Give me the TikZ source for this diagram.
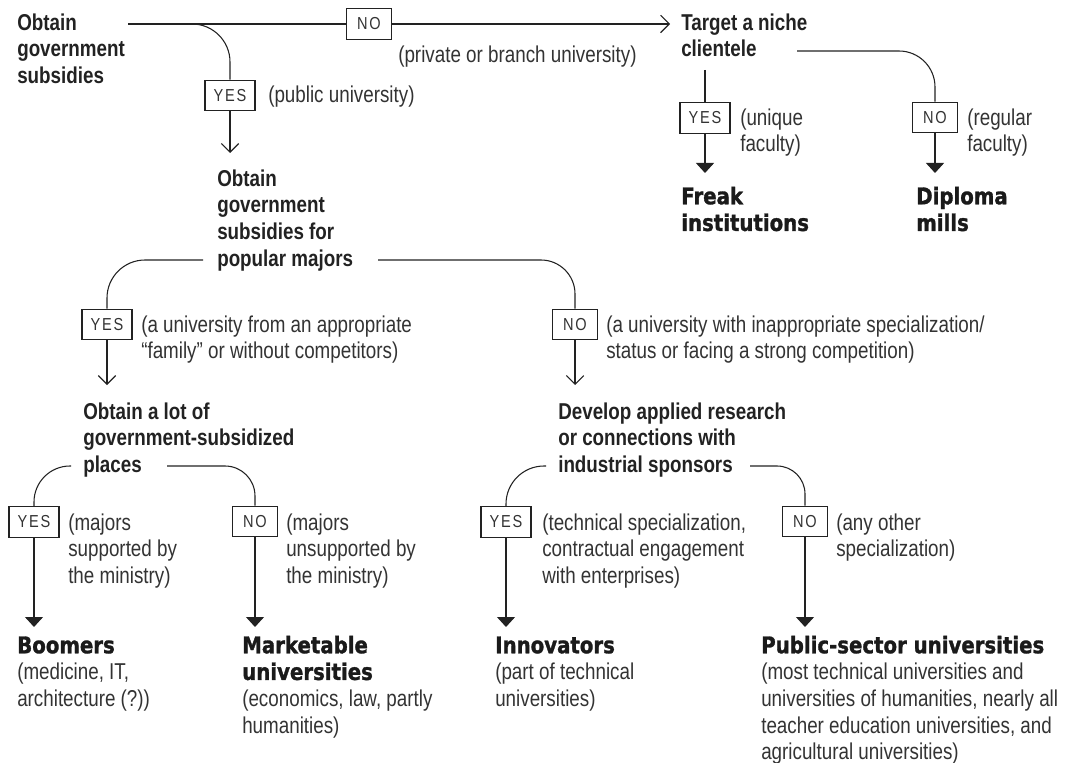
\documentclass[tikz,border=0pt]{standalone}
\usepackage{fontspec}
\setmainfont{Liberation Sans}[FakeStretch=0.82]
\newfontfamily\blackfam{DejaVu Sans}[FakeStretch=0.86,BoldFeatures={FakeBold=1.3}]
\newfontfamily\boxfam{Liberation Sans}[LetterSpace=10,FakeStretch=0.84]
\usetikzlibrary{arrows.meta}
\newcommand\firstln{\rule{0pt}{14pt}}
\newcommand\regf{\fontsize{17.2pt}{20pt}\selectfont}
\newcommand\blackf{\blackfam\bfseries\fontsize{17.2pt}{20pt}\selectfont}
\definecolor{ink}{HTML}{222222}
\definecolor{txtc}{HTML}{333333}
\definecolor{ttlc}{HTML}{1A1A1A}
\tikzset{
  ln/.style={draw=ink, line width=0.8pt},
  openarr/.style={-{Straight Barb[length=6.5pt,width=13pt,line width=0.8pt]}},
  fillarr/.style={-{Triangle[length=7.5pt,width=13.5pt]}},
  txt/.style={anchor=north west, inner sep=0pt, align=left, font=\regf, text=txtc},
  hd/.style={txt, font=\regf\bfseries, text=ink},
  ttl/.style={txt, font=\blackf, text=ttlc},
  lbox/.style={draw=ink, line width=0.8pt, fill=white, inner sep=0pt,
    minimum height=23pt, font=\boxfam\fontsize{13pt}{15pt}\selectfont, text=txtc},
  yesbox/.style={lbox, minimum width=37.5pt},
  nobox/.style={lbox, minimum width=33.75pt}
}
\begin{document}
\begin{tikzpicture}[x=0.75pt, y=-0.75pt]
\useasboundingbox (0,0) rectangle (1067,763);

% ---------- top level ----------
\node[hd] (q1) at (17,11.33) {\firstln Obtain\\government\\subsidies};
\coordinate (s1) at (128,24);
\node[nobox] (n1) at (369,24) {NO};
\coordinate (t1) at (670,24);
\draw[ln] (s1) -- (n1.west);
\draw[ln,openarr] (n1.east) -- (t1);
\node[txt] (l1) at (398,43.33) {\firstln(private or branch university)};

\coordinate (b1) at (190,24);
\node[yesbox] (y1) at (230,95.5) {YES};
\draw[ln,rounded corners=28.5pt] (b1) -| (y1.north);
\coordinate (t2) at (230,153);
\draw[ln,openarr] (y1.south) -- (t2);
\node[txt] (l2) at (268,83.33) {\firstln(public university)};

% ---------- niche branch ----------
\node[hd] (q5) at (681,11.33) {\firstln Target a niche\\clientele};
\coordinate (b6) at (705,70);
\node[yesbox] (y5) at (705,118) {YES};
\draw[ln] (b6) -- (y5.north);
\coordinate (t6) at (705,173);
\draw[ln,fillarr] (y5.south) -- (t6);
\node[txt] (l5) at (740,106.33) {\firstln(unique\\faculty)};

\coordinate (b5) at (797,51);
\node[nobox] (n5) at (935,117.5) {NO};
\draw[ln,rounded corners=27pt] (b5) -| (n5.north);
\coordinate (t5) at (935,173);
\draw[ln,fillarr] (n5.south) -- (t5);
\node[txt] (l6) at (967,106.33) {\firstln(regular\\faculty)};

\node[ttl] (r1) at (681,185.33) {\firstln Freak\\institutions};
\node[ttl] (r2) at (916,185.33) {\firstln Diploma\\mills};

% ---------- second level ----------
\node[hd] (q2) at (217,167.33) {\firstln Obtain\\government\\subsidies for\\popular majors};
\coordinate (b2l) at (203,260);
\node[yesbox] (y2) at (107,324.5) {YES};
\draw[ln,rounded corners=28.5pt] (b2l) -| (y2.north);
\coordinate (t3) at (107,385);
\draw[ln,openarr] (y2.south) -- (t3);
\node[txt] (l3) at (141,313.33) {\firstln(a university from an appropriate\\“family” or without competitors)};

\coordinate (b2r) at (378,260);
\node[nobox] (n2) at (575,324.5) {NO};
\draw[ln,rounded corners=25.5pt] (b2r) -| (n2.north);
\coordinate (t4) at (575,385);
\draw[ln,openarr] (n2.south) -- (t4);
\node[txt] (l4) at (606,313.33) {\firstln(a university with inappropriate specialization/\\status or facing a strong competition)};

% ---------- third level ----------
\node[hd] (q3) at (83,400.33) {\firstln Obtain a lot of\\government-subsidized\\places};
\node[hd] (q4) at (558,400.33) {\firstln Develop applied research\\or connections with\\industrial sponsors};

\coordinate (b3l) at (71,466);
\node[yesbox] (y3) at (34,522) {YES};
\draw[ln,rounded corners=27pt] (b3l) -| (y3.north);
\coordinate (t7) at (34,627);
\draw[ln,fillarr] (y3.south) -- (t7);
\node[txt] (l7) at (68,511.33) {\firstln(majors\\supported by\\the ministry)};

\coordinate (b3r) at (167,466);
\node[nobox] (n3) at (255,521.5) {NO};
\draw[ln,rounded corners=22.5pt] (b3r) -| (n3.north);
\coordinate (t8) at (255,627);
\draw[ln,fillarr] (n3.south) -- (t8);
\node[txt] (l8) at (286,511.33) {\firstln(majors\\unsupported by\\the ministry)};

\coordinate (b4l) at (546,466);
\node[yesbox] (y4) at (506,522) {YES};
\draw[ln,rounded corners=28.5pt] (b4l) -| (y4.north);
\coordinate (t9) at (506,627);
\draw[ln,fillarr] (y4.south) -- (t9);
\node[txt] (l9) at (542,511.33) {\firstln(technical specialization,\\contractual engagement\\with enterprises)};

\coordinate (b4r) at (750,466);
\node[nobox] (n4) at (805,521.5) {NO};
\draw[ln,rounded corners=21pt] (b4r) -| (n4.north);
\coordinate (t10) at (805,627);
\draw[ln,fillarr] (n4.south) -- (t10);
\node[txt] (l10) at (836,511.33) {\firstln(any other\\specialization)};

% ---------- leaves ----------
\node[txt] (r3) at (17,634.33) {\firstln{\blackf\color{ttlc}Boomers}\\(medicine, IT,\\architecture (?))};
\node[txt] (r4) at (242,634.33) {\firstln{\blackf\color{ttlc}Marketable}\\{\blackf\color{ttlc}universities}\\(economics, law, partly\\humanities)};
\node[txt] (r5) at (495,634.33) {\firstln{\blackf\color{ttlc}Innovators}\\(part of technical\\universities)};
\node[txt] (r6) at (761,634.33) {\firstln{\blackf\color{ttlc}Public-sector universities}\\(most technical universities and\\universities of humanities, nearly all\\teacher education universities, and\\agricultural universities)};
\end{tikzpicture}
\end{document}
